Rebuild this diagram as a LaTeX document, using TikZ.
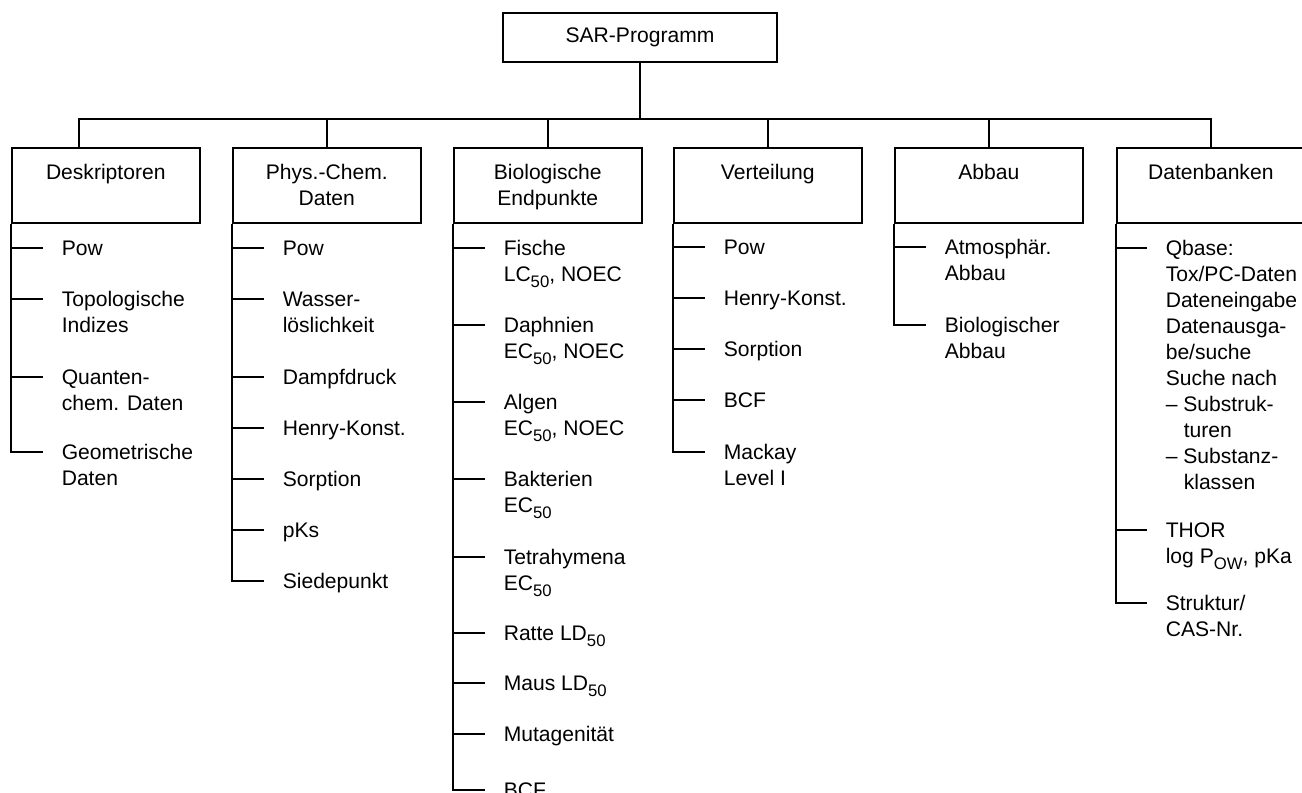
\documentclass[tikz,border=0pt]{standalone}
\usepackage{fontspec}
\setmainfont{Liberation Sans}

\newcommand{\lstack}[1]{\begin{tabular}[t]{@{}l@{}}#1\end{tabular}}
\newcommand{\cstack}[1]{\begin{tabular}[t]{@{}c@{}}#1\end{tabular}}
\newcommand{\lowidx}[1]{\raisebox{-0.5ex}{\fontsize{9.5}{10}\selectfont #1}}

\tikzset{
  box/.style={draw,minimum width=5.48cm,minimum height=0.98cm},
  cat/.style={draw,anchor=north west,inner sep=0pt,minimum width=3.76cm,
    text height=0.64cm,text depth=0.86cm},
  entry/.style={anchor=west,inner sep=0pt,text height=0.3cm,text depth=0pt},
  twig/.style={shorten >=0.36cm}
}

\begin{document}
\begin{tikzpicture}[x=0.02cm,y=-0.02cm,line width=0.9pt,
  font=\fontsize{12}{14.8}\selectfont]
\useasboundingbox (0,0) rectangle (1302,792);

% top and the six groups
\node[box] (sar) at (640,37.5) {SAR-Programm};
\coordinate (bus) at (640,119);
\node[cat] (desk) at (11,147) {\cstack{Deskriptoren}};
\node[cat] (phys) at (232,147) {\cstack{Phys.-Chem.\\Daten}};
\node[cat] (bio) at (453,147) {\cstack{Biologische\\Endpunkte}};
\node[cat] (vert) at (673,147) {\cstack{Verteilung}};
\node[cat] (abb) at (894,147) {\cstack{Abbau}};
\node[cat] (dat) at (1116,147) {\cstack{Datenbanken}};

\draw (sar) -- (bus);
\draw ([xshift=1.36cm]desk.north west) |- (bus) -| (dat.north);
\draw (phys.north) -- (phys.north |- bus);
\draw (bio.north) -- (bio.north |- bus);
\draw (vert.north) -- (vert.north |- bus);
\draw (abb.north) -- (abb.north |- bus);

% Deskriptoren
\node[entry] (desk1) at (61,248) {Pow};
\node[entry] (desk2) at (61,299) {\lstack{Topologische\\Indizes}};
\node[entry] (desk3) at (61,377) {\lstack{Quanten-\\chem. Daten}};
\node[entry] (desk4) at (61,452) {\lstack{Geometrische\\Daten}};
\draw[twig] (desk.south west) |- (desk4.west);
\foreach \i in {1,2,3}
  \draw[twig] (desk\i.west -| desk.west) -- (desk\i.west);

% Phys.-Chem. Daten
\node[entry] (phys1) at (282,248) {Pow};
\node[entry] (phys2) at (282,299) {\lstack{Wasser-\\löslichkeit}};
\node[entry] (phys3) at (282,377) {Dampfdruck};
\node[entry] (phys4) at (282,428) {Henry-Konst.};
\node[entry] (phys5) at (282,479) {Sorption};
\node[entry] (phys6) at (282,530) {pKs};
\node[entry] (phys7) at (282,581) {Siedepunkt};
\draw[twig] (phys.south west) |- (phys7.west);
\foreach \i in {1,...,6}
  \draw[twig] (phys\i.west -| phys.west) -- (phys\i.west);

% Biologische Endpunkte
\node[entry] (bio1) at (503,248) {\lstack{Fische\\LC\lowidx{50}, NOEC}};
\node[entry] (bio2) at (503,325) {\lstack{Daphnien\\EC\lowidx{50}, NOEC}};
\node[entry] (bio3) at (503,402) {\lstack{Algen\\EC\lowidx{50}, NOEC}};
\node[entry] (bio4) at (503,479) {\lstack{Bakterien\\EC\lowidx{50}}};
\node[entry] (bio5) at (503,557) {\lstack{Tetrahymena\\EC\lowidx{50}}};
\node[entry] (bio6) at (503,633) {Ratte LD\lowidx{50}};
\node[entry] (bio7) at (503,683) {Maus LD\lowidx{50}};
\node[entry] (bio8) at (503,734) {Mutagenität};
\node[entry] (bio9) at (503,790) {BCF};
\draw[twig] (bio.south west) |- (bio9.west);
\foreach \i in {1,...,8}
  \draw[twig] (bio\i.west -| bio.west) -- (bio\i.west);

% Verteilung
\node[entry] (vert1) at (723,247) {Pow};
\node[entry] (vert2) at (723,298) {Henry-Konst.};
\node[entry] (vert3) at (723,349) {Sorption};
\node[entry] (vert4) at (723,400) {BCF};
\node[entry] (vert5) at (723,452) {\lstack{Mackay\\Level I}};
\draw[twig] (vert.south west) |- (vert5.west);
\foreach \i in {1,...,4}
  \draw[twig] (vert\i.west -| vert.west) -- (vert\i.west);

% Abbau
\node[entry] (abb1) at (944,247) {\lstack{Atmosphär.\\Abbau}};
\node[entry] (abb2) at (944,325) {\lstack{Biologischer\\Abbau}};
\draw[twig] (abb.south west) |- (abb2.west);
\draw[twig] (abb1.west -| abb.west) -- (abb1.west);

% Datenbanken
\node[entry] (dat1) at (1165,248) {\lstack{Qbase:\\Tox/PC-Daten\\Dateneingabe\\
  Datenausga-\\be/suche\\Suche nach\\-- Substruk-\\\hspace*{0.36cm}turen\\
  -- Substanz-\\\hspace*{0.36cm}klassen}};
\node[entry] (dat2) at (1165,530) {\lstack{THOR\\log P\lowidx{OW}, pKa}};
\node[entry] (dat3) at (1165,603) {\lstack{Struktur/\\CAS-Nr.}};
\draw[twig] (dat.south west) |- (dat3.west);
\foreach \i in {1,2}
  \draw[twig] (dat\i.west -| dat.west) -- (dat\i.west);
\end{tikzpicture}
\end{document}
